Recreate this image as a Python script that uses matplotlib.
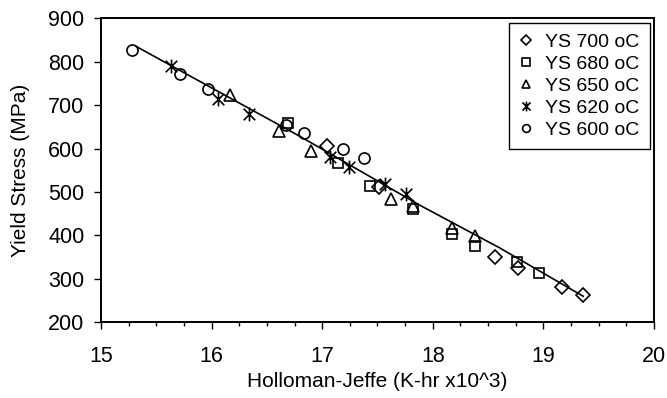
import numpy as np
import matplotlib
matplotlib.use("Agg")
import matplotlib.pyplot as plt
from matplotlib.path import Path

# data
ys700_x = [17.04, 17.51, 18.56, 18.77, 19.17, 19.36]
ys700_y = [606, 511, 351, 324, 282, 264]

ys680_x = [16.69, 17.14, 17.43, 17.82, 18.17, 18.38, 18.76, 18.96]
ys680_y = [658, 566, 515, 462, 403, 376, 338, 314]

ys650_x = [16.17, 16.61, 16.90, 17.62, 17.82, 18.17, 18.38]
ys650_y = [724, 641, 595, 484, 468, 416, 399]

ys620_x = [15.63, 16.06, 16.34, 17.07, 17.24, 17.57, 17.76]
ys620_y = [790, 714, 679, 580, 558, 519, 495]

ys600_x = [15.28, 15.71, 15.97, 16.67, 16.84, 17.19, 17.38]
ys600_y = [828, 772, 737, 654, 635, 598, 579]

trend_x = [15.32, 16.80, 17.88, 18.60, 19.36]
trend_y = [835, 628, 470, 372, 260]

labels = ["YS 700 oC", "YS 680 oC", "YS 650 oC", "YS 620 oC", "YS 600 oC"]

# excel style star: an x with a vertical bar
star = Path([(-1, -1), (1, 1), (-1, 1), (1, -1), (0, -1.2), (0, 1.2)],
            [Path.MOVETO, Path.LINETO, Path.MOVETO, Path.LINETO, Path.MOVETO, Path.LINETO])


def plot_yield_stress():
    plt.rcParams["font.family"] = ["Liberation Sans", "DejaVu Sans"]
    fig = plt.figure(figsize=(6.67, 3.98), dpi=100)
    ax = fig.add_axes([0.1514, 0.1902, 0.8291, 0.7638])

    ax.plot(trend_x, trend_y, color="black", lw=1.2, zorder=2)

    series = [
        (ys700_x, ys700_y, "D", 7.5),
        (ys680_x, ys680_y, "s", 7.5),
        (ys650_x, ys650_y, "^", 9),
        (ys620_x, ys620_y, star, 10),
        (ys600_x, ys600_y, "o", 8),
    ]
    for (xs, ys, m, ms), lab in zip(series, labels):
        ax.plot(xs, ys, ls="none", marker=m, ms=ms, mfc="none", mec="black",
                mew=1.2, label=lab, zorder=3)

    ax.set_xlim(15, 20)
    ax.set_ylim(200, 900)
    ax.set_xticks(np.arange(15, 20.01, 1))
    ax.set_xticks(np.arange(15, 20.01, 0.25), minor=True)
    ax.set_yticks(np.arange(200, 901, 100))
    ax.tick_params(axis="both", which="major", direction="out", length=5,
                   width=1, labelsize=15.5, color="black")
    ax.tick_params(axis="x", which="major", pad=12)
    ax.tick_params(axis="y", which="major", pad=7)
    ax.tick_params(axis="x", which="minor", direction="out", length=3, width=1)

    for sp in ax.spines.values():
        sp.set_linewidth(1.4)
        sp.set_color("black")

    ax.set_xlabel("Holloman-Jeffe (K-hr x10^3)", fontsize=15, labelpad=4)
    ax.set_ylabel("Yield Stress (MPa)", fontsize=15, labelpad=13)

    leg = ax.legend(loc="upper right", bbox_to_anchor=(650 / 667, 1 - 22.7 / 398),
                    bbox_transform=fig.transFigure, fontsize=14, markerscale=0.7,
                    frameon=True, fancybox=False, edgecolor="black",
                    framealpha=1, borderpad=0.55, labelspacing=0.22,
                    handlelength=0.6, handletextpad=0.7, borderaxespad=0)
    leg.get_frame().set_linewidth(1.0)

    fig.savefig("out.png", dpi=100)


def main():
    plot_yield_stress()


if __name__ == "__main__":
    main()
